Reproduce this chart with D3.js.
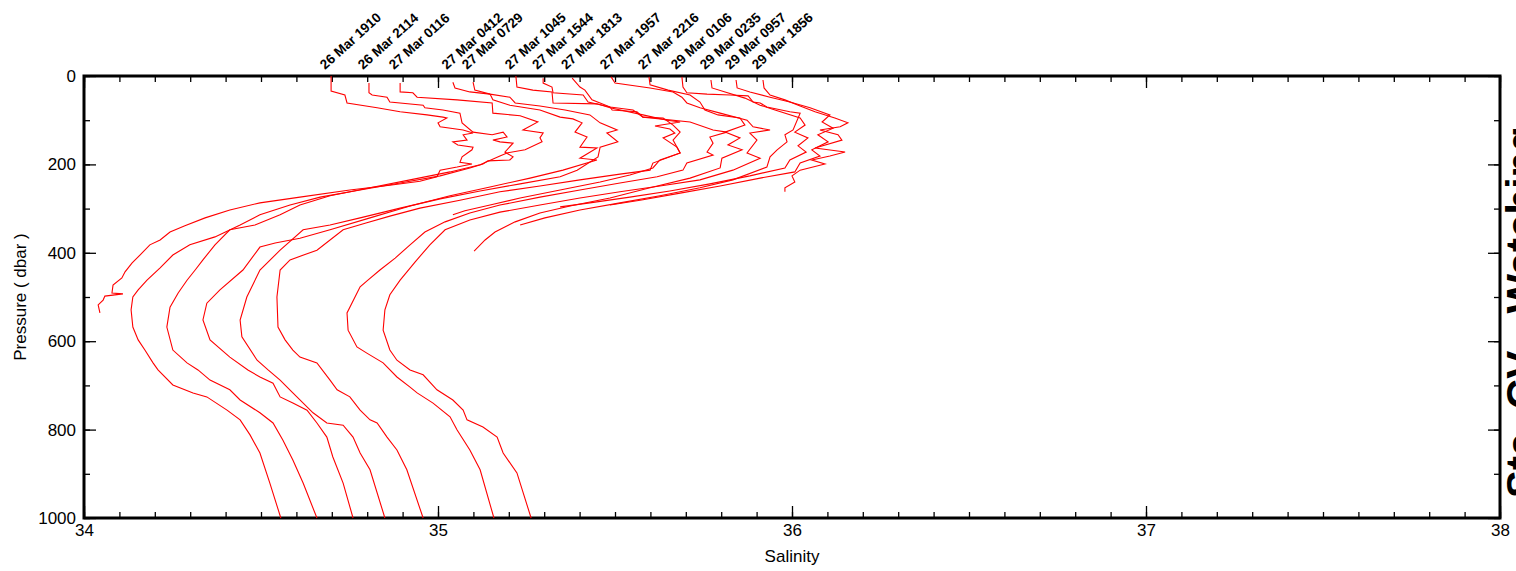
<!DOCTYPE html>
<html>
<head>
<meta charset="utf-8">
<script src="https://cdn.jsdelivr.net/npm/d3@7"></script>
<style>
  body { margin: 0; background: #fff; }
  svg { display: block; font-family: "Liberation Sans", Arial, sans-serif; }
</style>
</head>
<body>
<div id="chart"></div>
<script>
// Salinity profiles, each point is [pressure (dbar), salinity]
const p1910 = [[0,34.698],[34,34.698],[43,34.737],[61,34.743],[72,34.828],[81,34.893],[88,34.969],[93,35.014],[95,35.025],[106,35.000],[115,35.006],[122,35.071],[129,35.099],[133,35.071],[145,35.082],[149,35.042],[156,35.056],[161,35.099],[167,35.096],[183,35.068],[195,35.062],[199,35.096],[206,35.054],[213,35.006],[228,34.997],[238,34.949],[247,34.864],[258,34.751],[274,34.610],[287,34.497],[303,34.412],[321,34.342],[339,34.285],[353,34.243],[371,34.215],[382,34.186],[405,34.158],[423,34.136],[443,34.116],[457,34.107],[473,34.082],[491,34.079],[493,34.110],[498,34.059],[507,34.054],[518,34.040],[536,34.045]];
const p2114 = [[16,34.805],[38,34.805],[43,34.814],[48,34.856],[59,34.864],[66,34.958],[72,34.963],[77,35.014],[84,35.062],[106,35.068],[127,35.099],[133,35.153],[127,35.184],[138,35.195],[145,35.155],[149,35.175],[152,35.212],[172,35.189],[183,35.212],[190,35.203],[192,35.141],[199,35.127],[208,35.090],[226,35.006],[242,34.893],[258,34.780],[274,34.667],[292,34.582],[314,34.497],[337,34.441],[364,34.370],[382,34.299],[405,34.251],[434,34.215],[462,34.178],[484,34.153],[500,34.138],[529,34.133],[568,34.138],[597,34.153],[620,34.172],[649,34.195],[665,34.209],[699,34.251],[717,34.308],[726,34.347],[756,34.404],[778,34.441],[812,34.469],[853,34.497],[921,34.525],[1000,34.556]];
const p0116 = [[16,34.893],[36,34.893],[38,34.929],[48,34.941],[54,35.054],[61,35.153],[84,35.155],[90,35.232],[104,35.282],[122,35.240],[129,35.297],[140,35.288],[149,35.294],[167,35.246],[174,35.195],[181,35.175],[201,35.119],[217,35.034],[235,34.921],[253,34.808],[271,34.695],[292,34.610],[314,34.554],[337,34.483],[348,34.412],[382,34.370],[416,34.336],[439,34.314],[462,34.291],[491,34.266],[523,34.243],[568,34.234],[620,34.251],[649,34.291],[665,34.322],[688,34.356],[710,34.412],[733,34.441],[762,34.497],[785,34.534],[824,34.562],[869,34.590],[921,34.619],[1000,34.658]];
const p0412 = [[14,35.042],[27,35.048],[36,35.090],[41,35.147],[54,35.155],[66,35.203],[77,35.288],[93,35.345],[97,35.381],[106,35.407],[127,35.387],[138,35.421],[161,35.401],[163,35.449],[186,35.401],[190,35.449],[213,35.353],[231,35.260],[251,35.147],[271,35.034],[294,34.921],[321,34.808],[348,34.695],[367,34.610],[378,34.540],[387,34.497],[439,34.449],[484,34.384],[514,34.347],[552,34.336],[597,34.356],[636,34.412],[665,34.463],[681,34.497],[695,34.534],[726,34.554],[740,34.590],[756,34.630],[785,34.658],[817,34.686],[862,34.703],[921,34.732],[1000,34.760]];
const p0729 = [[14,35.099],[32,35.104],[41,35.147],[48,35.203],[61,35.218],[68,35.288],[77,35.359],[88,35.429],[106,35.458],[122,35.506],[129,35.477],[149,35.508],[161,35.458],[183,35.452],[213,35.393],[228,35.345],[244,35.232],[260,35.119],[278,35.006],[299,34.893],[321,34.780],[337,34.695],[348,34.619],[394,34.554],[439,34.497],[500,34.460],[552,34.441],[590,34.446],[643,34.489],[665,34.520],[688,34.554],[717,34.590],[762,34.647],[785,34.686],[790,34.732],[817,34.760],[853,34.780],[891,34.808],[1000,34.850]];
const p1045 = [[0,35.220],[25,35.223],[32,35.268],[36,35.322],[61,35.325],[63,35.449],[72,35.486],[88,35.579],[100,35.647],[104,35.684],[113,35.613],[120,35.655],[129,35.669],[140,35.636],[161,35.675],[174,35.684],[197,35.607],[213,35.599],[222,35.514],[235,35.401],[249,35.288],[262,35.175],[281,35.062],[299,34.949],[317,34.864],[333,34.794],[348,34.732],[394,34.658],[416,34.582],[439,34.554],[500,34.545],[568,34.548],[597,34.568],[620,34.590],[636,34.610],[649,34.658],[688,34.695],[710,34.715],[726,34.751],[756,34.780],[778,34.808],[785,34.828],[817,34.856],[846,34.884],[891,34.912],[1000,34.958]];
const p1544 = [[5,35.297],[16,35.297],[25,35.322],[38,35.325],[43,35.410],[59,35.424],[70,35.486],[77,35.492],[81,35.562],[93,35.579],[95,35.636],[111,35.664],[127,35.684],[145,35.664],[174,35.684],[190,35.627],[208,35.607],[224,35.542],[240,35.458],[258,35.345],[276,35.232],[292,35.147],[305,35.076],[314,35.042]];
const p1813 = [[5,35.379],[25,35.401],[32,35.415],[54,35.435],[70,35.486],[77,35.551],[93,35.579],[104,35.712],[122,35.777],[127,35.816],[138,35.768],[152,35.777],[172,35.760],[179,35.777],[197,35.703],[213,35.692],[228,35.619],[242,35.514],[258,35.401],[274,35.288],[292,35.175],[310,35.090],[330,35.020],[353,34.963],[382,34.921],[412,34.879],[439,34.836],[462,34.802],[477,34.780],[536,34.743],[575,34.746],[613,34.771],[627,34.799],[649,34.845],[681,34.884],[704,34.921],[717,34.941],[740,34.986],[771,35.034],[801,35.054],[846,35.090],[891,35.119],[1000,35.158]];
const p1957 = [[2,35.489],[16,35.500],[27,35.599],[36,35.664],[48,35.689],[61,35.703],[72,35.740],[84,35.797],[100,35.873],[115,35.890],[122,35.938],[129,35.881],[145,35.901],[174,35.873],[186,35.910],[213,35.833],[235,35.740],[249,35.627],[262,35.514],[276,35.401],[292,35.288],[308,35.175],[326,35.090],[348,35.020],[382,34.977],[421,34.935],[462,34.893],[495,34.864],[529,34.850],[575,34.845],[620,34.864],[643,34.884],[665,34.921],[676,34.958],[710,34.997],[733,35.042],[756,35.071],[778,35.082],[794,35.127],[817,35.167],[853,35.184],[898,35.223],[1000,35.263]];
const p2216 = [[2,35.596],[20,35.599],[32,35.650],[43,35.712],[59,35.740],[77,35.754],[88,35.791],[95,35.853],[111,35.867],[127,35.811],[140,35.853],[156,35.819],[167,35.859],[186,35.802],[208,35.797],[231,35.712],[253,35.599],[276,35.486],[294,35.373],[310,35.288],[330,35.218],[353,35.161],[371,35.133],[396,35.102]];
const p0106 = [[2,35.689],[25,35.692],[38,35.703],[41,35.760],[43,35.825],[45,35.876],[59,35.890],[61,35.910],[70,35.929],[81,35.994],[84,36.023],[122,36.003],[133,35.980],[149,35.986],[167,35.958],[183,35.938],[206,35.929],[235,35.833],[253,35.740],[271,35.627],[287,35.514],[303,35.401],[321,35.302],[337,35.232]];
const p0235 = [[9,35.771],[27,35.774],[36,35.811],[50,35.867],[66,35.910],[77,35.952],[95,36.023],[111,36.037],[127,36.008],[140,36.045],[158,36.017],[172,36.040],[190,35.994],[208,35.980],[226,35.881],[244,35.768],[260,35.655],[274,35.542],[287,35.429],[296,35.345]];
const p0957 = [[9,35.842],[27,35.845],[36,35.881],[48,35.938],[59,35.994],[72,36.051],[88,36.107],[104,36.085],[118,36.116],[133,36.073],[149,36.102],[167,36.056],[181,36.079],[197,36.023],[217,36.008],[231,35.910],[249,35.797],[265,35.684],[281,35.571],[292,35.486]];
const p1856 = [[9,35.918],[27,35.921],[43,35.938],[54,35.980],[68,36.023],[81,36.065],[95,36.121],[106,36.158],[115,36.136],[122,36.079],[133,36.130],[145,36.141],[163,36.065],[172,36.150],[181,36.107],[190,36.056],[199,36.093],[213,36.023],[226,36.000],[240,36.008],[253,35.980],[262,35.980]];

const profiles = [p1910, p2114, p0116, p0412, p0729, p1045, p1544, p1813, p1957, p2216, p0106, p0235, p0957, p1856];
const profileLabels = ["26 Mar 1910", "26 Mar 2114", "27 Mar 0116", "27 Mar 0412", "27 Mar 0729",
  "27 Mar 1045", "27 Mar 1544", "27 Mar 1813", "27 Mar 1957", "27 Mar 2216",
  "29 Mar 0106", "29 Mar 0235", "29 Mar 0957", "29 Mar 1856"];

const xTicks = [34, 35, 36, 37, 38];
const yTicks = [0, 200, 400, 600, 800, 1000];
const sideTitle = "Sta. CV - Watching";

const width = 1516, height = 571;
const margin = { top: 76, right: 16, bottom: 53, left: 84 };

const svg = d3.select("#chart").append("svg")
  .attr("width", width)
  .attr("height", height);

const x = d3.scaleLinear().domain([34, 38]).range([margin.left, width - margin.right]);
const y = d3.scaleLinear().domain([0, 1000]).range([margin.top, height - margin.bottom]);

// minor ticks (no labels) on all four sides, pointing inward
const minorX = x.ticks(40), minorY = y.ticks(10);
function tickGroup(axis, tx, ty) {
  const g = svg.append("g").attr("transform", `translate(${tx},${ty})`).call(axis);
  g.select(".domain").remove();
  g.selectAll(".tick line").attr("stroke", "#000").attr("stroke-width", 1.3);
  return g;
}
tickGroup(d3.axisBottom(x).tickValues(minorX).tickSize(-6).tickFormat(""), 0, y(1000));
tickGroup(d3.axisTop(x).tickValues(minorX).tickSize(-6).tickFormat(""), 0, y(0));
tickGroup(d3.axisLeft(y).tickValues(minorY).tickSize(-6).tickFormat(""), x(34), 0);
tickGroup(d3.axisRight(y).tickValues(minorY).tickSize(-6).tickFormat(""), x(38), 0);

// major ticks
tickGroup(d3.axisBottom(x).tickValues(xTicks).tickSize(-12).tickPadding(6).tickFormat(d3.format("d")), 0, y(1000));
tickGroup(d3.axisTop(x).tickValues(xTicks).tickSize(-12).tickFormat(""), 0, y(0));
tickGroup(d3.axisLeft(y).tickValues(yTicks).tickSize(-12).tickPadding(8).tickFormat(d3.format("d")), x(34), 0);
tickGroup(d3.axisRight(y).tickValues(yTicks).tickSize(-12).tickFormat(""), x(38), 0);

svg.selectAll(".tick text")
  .style("font-size", "17px")
  .style("font-family", "'Liberation Sans', Arial, sans-serif")
  .attr("fill", "#000");

// frame
svg.append("rect")
  .attr("x", x(34)).attr("y", y(0))
  .attr("width", x(38) - x(34)).attr("height", y(1000) - y(0))
  .attr("fill", "none").attr("stroke", "#000").attr("stroke-width", 3);

// profiles
const line = d3.line().x(d => x(d[1])).y(d => y(d[0]));
svg.append("g").selectAll("path")
  .data(profiles)
  .join("path")
  .attr("d", line)
  .attr("fill", "none")
  .attr("stroke", "#ff0000")
  .attr("stroke-width", 1.1);

// rotated station labels above each profile start
svg.append("g").selectAll("text")
  .data(profiles)
  .join("text")
  .attr("transform", d => `translate(${x(d[0][1]) - 6},70) rotate(-42)`)
  .style("font-size", "13.5px")
  .style("font-weight", "bold")
  .text((d, i) => profileLabels[i]);

// axis titles
svg.append("text")
  .attr("x", (x(34) + x(38)) / 2).attr("y", 562)
  .attr("text-anchor", "middle")
  .style("font-size", "17px")
  .text("Salinity");

svg.append("text")
  .attr("transform", `translate(26,${(y(0) + y(1000)) / 2}) rotate(-90)`)
  .attr("text-anchor", "middle")
  .style("font-size", "17px")
  .text("Pressure  ( dbar )");

// side title, cut off by the window edge
svg.append("text")
  .attr("transform", `translate(1536,${(y(0) + y(1000)) / 2 + 15}) rotate(-90)`)
  .attr("text-anchor", "middle")
  .style("font-size", "42px")
  .style("font-weight", "bold")
  .text(sideTitle);
</script>
</body>
</html>
